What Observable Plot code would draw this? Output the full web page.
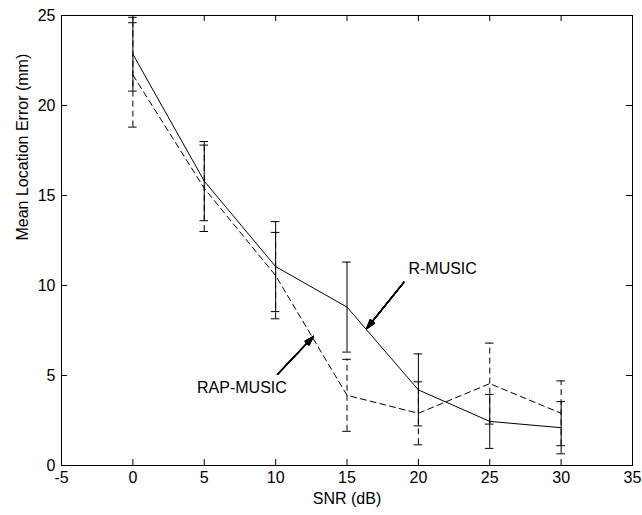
<!DOCTYPE html>
<html>
<head>
<meta charset="utf-8">
<script src="https://cdn.jsdelivr.net/npm/d3@7"></script>
<script src="https://cdn.jsdelivr.net/npm/@observablehq/plot@0.6"></script>
<style>
  html, body { margin: 0; padding: 0; background: white; }
</style>
</head>
<body>
<div id="chart"></div>
<script>
const snr = [0, 5, 10, 15, 20, 25, 30];
const rMusic = [22.85, 15.8, 11.05, 8.8, 4.2, 2.45, 2.1];
const rMusicErr = [2.05, 2.2, 2.5, 2.5, 2.0, 1.5, 1.45];
const rapMusic = [21.7, 15.4, 10.55, 3.9, 2.9, 4.55, 2.9];
const rapMusicErr = [2.9, 2.4, 2.4, 2.0, 1.75, 2.25, 1.8];
const xTicks = [-5, 0, 5, 10, 15, 20, 25, 30, 35];
const yTicks = [0, 5, 10, 15, 20, 25];
const seriesNames = ["R-MUSIC", "RAP-MUSIC"];
const xLabel = "SNR (dB)";
const yLabel = "Mean Location Error (mm)";

// annotation: label position, arrow tail, arrow tip (data units)
const annotations = [
  {text: seriesNames[0], lx: 21.7, ly: 10.94, x1: 18.98, y1: 10.18, x2: 16.37, y2: 7.6},
  {text: seriesNames[1], lx: 7.64, ly: 4.33, x1: 10.13, y1: 5.06, x2: 12.65, y2: 7.17}
];

const rData = snr.map((x, i) => ({x, y: rMusic[i], e: rMusicErr[i]}));
const rapData = snr.map((x, i) => ({x, y: rapMusic[i], e: rapMusicErr[i]}));

const capHalf = 0.3;
const dash = "6,4";

function errorMarks(data, opts) {
  return [
    Plot.ruleX(data, {x: "x", y1: d => d.y - d.e, y2: d => d.y + d.e, stroke: "black", strokeWidth: 1, ...opts}),
    Plot.ruleY(data, {y: d => d.y + d.e, x1: d => d.x - capHalf, x2: d => d.x + capHalf, stroke: "black", strokeWidth: 1}),
    Plot.ruleY(data, {y: d => d.y - d.e, x1: d => d.x - capHalf, x2: d => d.x + capHalf, stroke: "black", strokeWidth: 1})
  ];
}

const headAngles = [4, 8, 12, 16, 20, 24, 28, 32, 36];

const chart = Plot.plot({
  width: 642,
  height: 515,
  marginLeft: 61,
  marginRight: 10,
  marginTop: 15,
  marginBottom: 50,
  style: {fontFamily: "'Liberation Sans', Arial, sans-serif", fontSize: "16px", background: "white", color: "black"},
  x: {domain: [-5, 35]},
  y: {domain: [0, 25]},
  marks: [
    Plot.axisX({ticks: xTicks, tickSize: 0, tickPadding: 6, label: null, fontSize: 16, tickFormat: d => String(d)}),
    Plot.axisY({ticks: yTicks, tickSize: 0, tickPadding: 6, label: null, fontSize: 16, tickFormat: d => String(d)}),
    // inward ticks on all four sides
    Plot.ruleX(xTicks.slice(1, -1), {x: d => d, insetTop: 444, stroke: "black"}),
    Plot.ruleX(xTicks.slice(1, -1), {x: d => d, insetBottom: 444, stroke: "black"}),
    Plot.ruleY(yTicks.slice(1, -1), {y: d => d, insetRight: 565, stroke: "black"}),
    Plot.ruleY(yTicks.slice(1, -1), {y: d => d, insetLeft: 565, stroke: "black"}),
    ...errorMarks(rapData, {strokeDasharray: dash}),
    ...errorMarks(rData, {}),
    Plot.line(rapData, {x: "x", y: "y", stroke: "black", strokeWidth: 1, strokeDasharray: dash}),
    Plot.line(rData, {x: "x", y: "y", stroke: "black", strokeWidth: 1}),
    ...headAngles.map(a => Plot.arrow(annotations, {x1: "x1", y1: "y1", x2: "x2", y2: "y2", headAngle: a, headLength: 12, stroke: "black", strokeWidth: 1.2})),
    Plot.text(annotations, {x: "lx", y: "ly", text: "text", textAnchor: "middle", lineAnchor: "middle", fontSize: 16, fill: "black"}),
    Plot.text([xLabel], {text: d => d, frameAnchor: "bottom", dy: 33, lineAnchor: "middle", fontSize: 16, fill: "black"}),
    Plot.text([yLabel], {text: d => d, frameAnchor: "left", dx: -39, rotate: -90, lineAnchor: "middle", fontSize: 16, fill: "black"}),
    Plot.frame({stroke: "black", strokeWidth: 1})
  ]
});

document.getElementById("chart").appendChild(chart);
</script>
</body>
</html>
